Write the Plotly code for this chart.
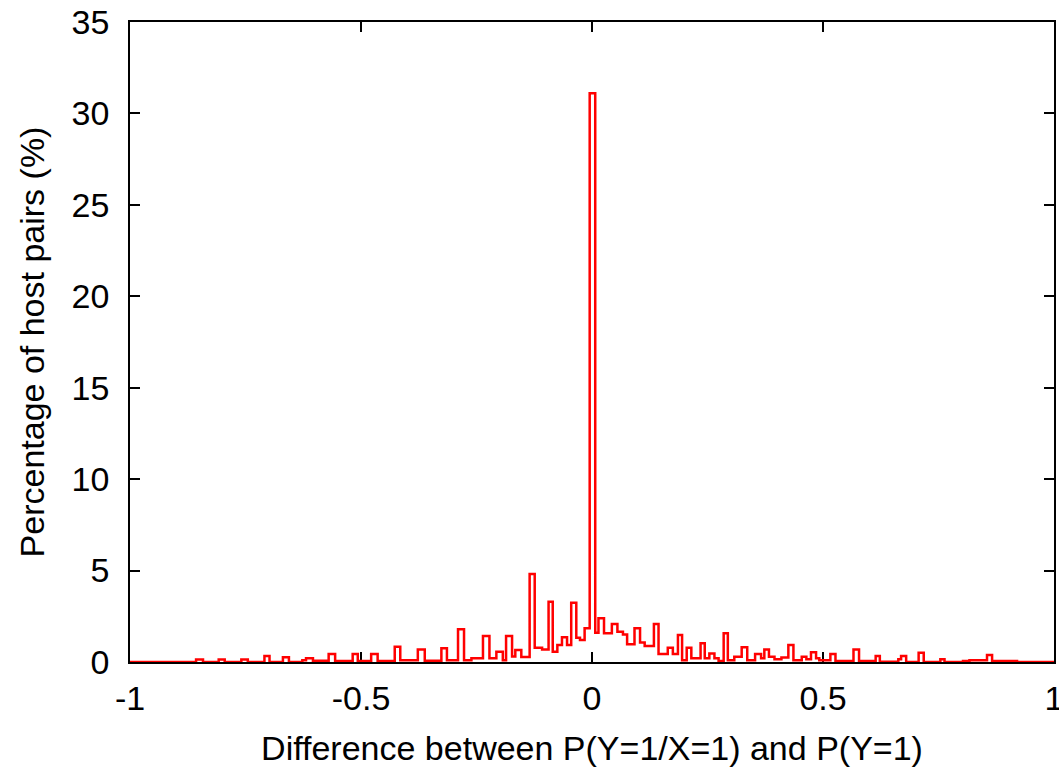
import plotly.graph_objects as go

# left edge of each step (data units) and the percentage held until the next edge
edges = [-1.0, -0.857, -0.842, -0.808, -0.795, -0.759, -0.745, -0.709, -0.698,
         -0.669, -0.656, -0.627, -0.619, -0.604, -0.570, -0.556, -0.518, -0.507,
         -0.478, -0.464, -0.427, -0.415, -0.377, -0.362, -0.326, -0.314, -0.290,
         -0.277, -0.261, -0.236, -0.222, -0.207, -0.193, -0.186, -0.173, -0.166,
         -0.153, -0.135, -0.124, -0.108, -0.094, -0.085, -0.075, -0.065, -0.054,
         -0.045, -0.034, -0.026, -0.016, -0.005, 0.007, 0.014, 0.026, 0.043,
         0.055, 0.067, 0.076, 0.092, 0.104, 0.114, 0.134, 0.144, 0.164, 0.175,
         0.186, 0.195, 0.205, 0.215, 0.235, 0.244, 0.254, 0.265, 0.274, 0.285,
         0.294, 0.308, 0.324, 0.336, 0.353, 0.366, 0.373, 0.383, 0.395, 0.410,
         0.425, 0.436, 0.454, 0.464, 0.474, 0.485, 0.492, 0.516, 0.527, 0.566,
         0.578, 0.614, 0.623, 0.663, 0.669, 0.680, 0.707, 0.718, 0.754, 0.763,
         0.803, 0.817, 0.855, 0.866, 0.920, 1.0]
percent = [0.0, 0.13, 0.0, 0.13, 0.0, 0.13, 0.0, 0.33, 0.0,
           0.26, 0.0, 0.1, 0.2, 0.07, 0.44, 0.05, 0.44, 0.05,
           0.44, 0.05, 0.84, 0.1, 0.69, 0.07, 0.75, 0.1, 1.79,
           0.1, 0.2, 1.42, 0.2, 0.56, 0.1, 1.42, 0.3, 0.66,
           0.27, 4.81, 0.78, 0.69, 3.3, 0.56, 0.93, 1.35, 0.93,
           3.24, 1.33, 1.2, 1.84, 31.1, 1.6, 2.39, 1.57, 2.08,
           1.66, 1.5, 0.97, 1.84, 1.06, 0.87, 2.08, 0.44, 0.78, 0.44,
           1.48, 0.1, 0.78, 0.2, 1.02, 0.2, 0.47, 0.2, 0.05,
           1.57, 0.1, 0.29, 0.8, 0.1, 0.44, 0.2, 0.69, 0.29, 0.15,
           0.25, 0.93, 0.1, 0.29, 0.15, 0.53, 0.2, 0.1, 0.44, 0.05,
           0.69, 0.05, 0.33, 0.02, 0.15, 0.33, 0.0, 0.51, 0.0, 0.15,
           0.0, 0.05, 0.1, 0.38, 0.05, 0.0, 0.0]

fig = go.Figure(go.Scatter(
    x=edges, y=percent, mode="lines",
    line=dict(color="#ff0000", width=2.5, shape="hv"),
    showlegend=False,
))

font = "Liberation Sans, Arial, Helvetica, sans-serif"
axis_style = dict(
    showline=True, linecolor="black", linewidth=1.5, mirror="ticks",
    ticks="inside", ticklen=10, tickwidth=1.5, tickcolor="black",
    showgrid=False, zeroline=False, layer="below traces",
    automargin=False, ticklabeloverflow="allow",
    tickfont=dict(family=font, size=34, color="black"),
)

fig.update_xaxes(
    range=[-1, 1], tickvals=[-1, -0.5, 0, 0.5, 1],
    ticktext=["-1", "-0.5", "0", "0.5", "1"],
    ticklabelstandoff=5,
    title=dict(text="Difference between P(Y=1/X=1) and P(Y=1)",
               font=dict(family=font, size=34, color="black"), standoff=21),
    **axis_style,
)
fig.update_yaxes(
    range=[0, 35], tickvals=[0, 5, 10, 15, 20, 25, 30, 35],
    ticklabelstandoff=12,
    title=dict(text="Percentage of host pairs (%)",
               font=dict(family=font, size=34, color="black"), standoff=17),
    **axis_style,
)

fig.update_layout(
    width=1059, height=768,
    paper_bgcolor="white", plot_bgcolor="white",
    margin=dict(l=130, r=5, t=22, b=106),
)

# drop the default page margin so the figure fills the window exactly
fig.write_html("out.html",
               config={"displayModeBar": False},
               post_script="document.body.style.margin='0';"
                           "document.body.style.overflow='hidden';")
